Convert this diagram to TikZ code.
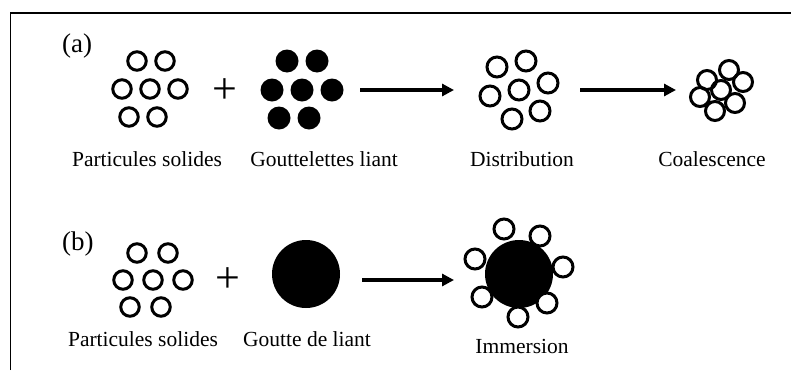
\documentclass[tikz,border=0pt]{standalone}
\usepackage{fontspec}
\setmainfont{Liberation Serif}
\usetikzlibrary{arrows.meta}

\begin{document}
\begin{tikzpicture}[x=1pt, y=-1pt,
    grain/.style={circle, draw, fill=white, line width=3pt, minimum size=18.5pt, inner sep=0pt},
    grainlarge/.style={grain, minimum size=20pt},
    goutte/.style={circle, fill, minimum size=23pt, inner sep=0pt},
    drop/.style={circle, fill, minimum size=68pt, inner sep=0pt},
    txt/.style={anchor=base, inner sep=0pt, font=\fontsize{21.5}{24}\selectfont},
    lettre/.style={anchor=base west, inner sep=0pt, font=\fontsize{27}{30}\selectfont},
    plus/.style={inner sep=0pt, font=\fontsize{44}{48}\selectfont},
    fleche/.style={line width=4pt, -{Triangle[length=12pt, width=12pt]}}]
    \useasboundingbox (0,0) rectangle (791,370);
    % frame
    \draw[line width=1.5pt] (10.5,370) -- (10.5,13) -- (791,13);

    % (a)
    \node[lettre] (la) at (62,52) {(a)};
    \foreach \x/\y [count=\i] in {137/61, 165/61, 122/89, 150/89, 178/89, 129/117, 157/117}
        \node[grain] (ps\i) at (\x,\y) {};
    \node[plus] (pa) at (225,91) {+};
    \foreach \x/\y [count=\i] in {287/61, 317/61, 272/90, 302/90, 332/90, 279/118, 309/118}
        \node[goutte] (gl\i) at (\x,\y) {};
    \foreach \x/\y [count=\i] in {497/67, 526/61, 548/83, 519/90, 490/96, 540/111, 512/119}
        \node[grainlarge] (di\i) at (\x,\y) {};
    \foreach \x/\y [count=\i] in {707/80, 729/70, 743/82, 700/97, 735/103, 715/111, 721/90}
        \node[grain, fill=none, minimum size=19pt] (co\i) at (\x,\y) {};
    \coordinate (a1s) at (360,90);
    \coordinate (a1e) at (454,90);
    \coordinate (a2s) at (580,90);
    \coordinate (a2e) at (676,90);
    \draw[fleche] (a1s) -- (a1e);
    \draw[fleche] (a2s) -- (a2e);
    \node[txt] (lps) at (147,166) {Particules solides};
    \node[txt] (lgl) at (324,166) {Gouttelettes liant};
    \node[txt] (ldi) at (522,166) {Distribution};
    \node[txt] (lco) at (712,166) {Coalescence};

    % (b)
    \node[lettre] (lb) at (62,250) {(b)};
    \foreach \x/\y [count=\i] in {137/253, 168/253, 123/280, 153/280, 183/280, 130/307, 161/307}
        \node[grain] (psb\i) at (\x,\y) {};
    \node[plus] (pb) at (228,280) {+};
    \node[drop] (go) at (306,274) {};
    \node[drop] (im) at (519,274) {};
    \foreach \x/\y [count=\i] in {504/229, 540/236, 475/259, 563/267, 482/297, 547/303, 518/317}
        \node[grainlarge] (imp\i) at (\x,\y) {};
    \coordinate (b1s) at (362,280);
    \coordinate (b1e) at (454,280);
    \draw[fleche] (b1s) -- (b1e);
    \node[txt] (lpsb) at (143,346) {Particules solides};
    \node[txt] (lgo) at (307,346) {Goutte de liant};
    \node[txt] (lim) at (522,353) {Immersion};
\end{tikzpicture}
\end{document}
